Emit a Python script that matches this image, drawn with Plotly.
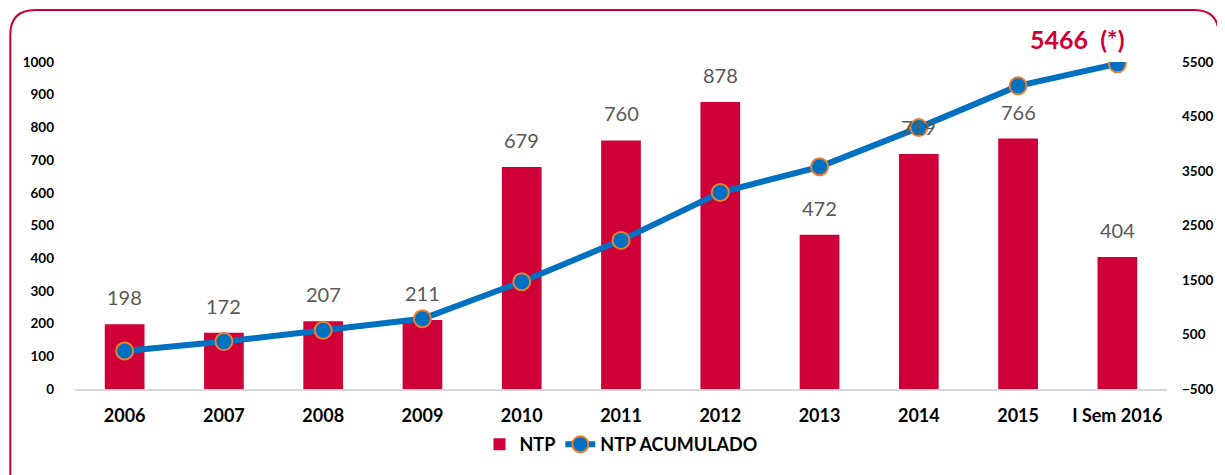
import plotly.graph_objects as go

categories = ["2006", "2007", "2008", "2009", "2010", "2011", "2012", "2013", "2014", "2015", "I Sem 2016"]
ntp = [198, 172, 207, 211, 679, 760, 878, 472, 719, 766, 404]
ntp_acumulado = [198, 370, 577, 788, 1467, 2227, 3105, 3577, 4296, 5062, 5466]
left_ticks = [0, 100, 200, 300, 400, 500, 600, 700, 800, 900, 1000]
right_ticks = [-500, 500, 1500, 2500, 3500, 4500, 5500]
total_label = "5466  (*)"

# page body has an 8px margin; work in page pixels and shift
OFF = 8
W, H = 1225 - OFF, 475 - OFF
ML = 75 - OFF
MR = 1225 - 1172
MT = 62 - OFF
MB = H - (389 - OFF)
PW, PH = W - ML - MR, H - MT - MB

RED = "#CE0037"
BLUE = "#0070C0"
ORANGE = "#ED7D31"
FONT = "Lato"

fig = go.Figure()
fig.add_trace(go.Bar(
    x=categories, y=ntp, name="NTP", marker=dict(color=RED, line=dict(width=0)),
    width=0.4, yaxis="y",
))
fig.add_trace(go.Scatter(
    x=categories, y=ntp_acumulado, name="NTP ACUMULADO", yaxis="y2",
    mode="lines+markers",
    line=dict(color=BLUE, width=6),
    marker=dict(size=17, color=BLUE, line=dict(color=ORANGE, width=2)),
))

annotations = []
for i, v in enumerate(ntp):
    annotations.append(dict(
        x=i, y=v, xref="x", yref="y", text=str(v), showarrow=False,
        yanchor="bottom", yshift=13,
        font=dict(family=FONT, size=20, color="#595959"),
    ))
annotations.append(dict(
    x=len(categories) - 1, y=ntp_acumulado[-1], xref="x", yref="y2", text=total_label,
    showarrow=False, xshift=-40, yshift=25, yanchor="middle",
    font=dict(family=FONT, size=25, color=RED, weight="bold"),
))


def px_x(p):
    return (p - OFF - ML) / PW


def px_y(p):
    return (H - MB - (p - OFF)) / PH


r = 25
L, T, R, B = 10, 10, 1224, 490
path = (f"M {px_x(L)},{px_y(B)} L {px_x(L)},{px_y(T + r)} "
        f"Q {px_x(L)},{px_y(T)} {px_x(L + r)},{px_y(T)} "
        f"L {px_x(R - r)},{px_y(T)} "
        f"Q {px_x(R)},{px_y(T)} {px_x(R)},{px_y(T + r)} "
        f"L {px_x(R)},{px_y(B)}")

fig.update_layout(
    width=W, height=H,
    margin=dict(l=ML, r=MR, t=MT, b=MB),
    plot_bgcolor="white", paper_bgcolor="white",
    font=dict(family=FONT, color="#000000"),
    showlegend=True,
    legend=dict(orientation="h", x=0.5, xanchor="center", y=-0.17, yanchor="middle",
                font=dict(family=FONT, size=18, color="#000000", weight="bold"),
                traceorder="normal"),
    xaxis=dict(
        type="category", categoryorder="array", categoryarray=categories,
        range=[-0.5, len(categories) - 0.5],
        showgrid=False, zeroline=False,
        showline=True, linecolor="#D9D9D9", linewidth=2,
        ticks="", tickfont=dict(family=FONT, size=18, color="#000000", weight="bold"),
        ticklabelstandoff=9,
    ),
    yaxis=dict(
        range=[0, 1000], tickvals=left_ticks, showgrid=False, zeroline=False,
        showline=False, ticks="", ticklabelstandoff=20,
        tickfont=dict(family=FONT, size=13.5, color="#000000", weight="bold"),
    ),
    yaxis2=dict(
        range=[-500, 5500], tickvals=right_ticks, overlaying="y", side="right",
        showgrid=False, zeroline=False, showline=False, ticks="",
        ticklabelstandoff=14,
        tickfont=dict(family=FONT, size=13.5, color="#000000", weight="bold"),
    ),
    annotations=annotations,
    shapes=[dict(type="path", path=path, xref="paper", yref="paper",
                 line=dict(color=RED, width=2), layer="above")],
)

fig.write_html("out.html")
